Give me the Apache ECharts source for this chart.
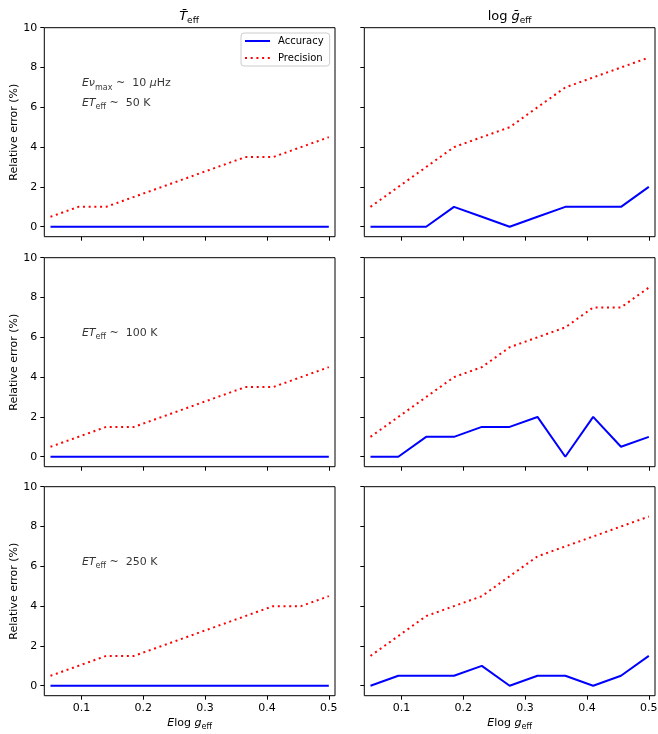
<!DOCTYPE html>
<html>
<head>
<meta charset="utf-8">
<script src="https://cdn.jsdelivr.net/npm/echarts@6/dist/echarts.min.js"></script>
<style>html,body{margin:0;padding:0;background:#fff}#c{width:658px;height:734px}</style>
</head>
<body>
<div id="c"></div>
<script>
// ---- data ----
const xVals = [0.05, 0.095, 0.14, 0.185, 0.23, 0.275, 0.32, 0.365, 0.41, 0.455, 0.5];
const xTicks = [0.1, 0.2, 0.3, 0.4, 0.5];
const yTicks = [0, 2, 4, 6, 8, 10];

const teffAcc1 = [0, 0, 0, 0, 0, 0, 0, 0, 0, 0, 0];
const teffPrec1 = [0.5, 1, 1, 1.5, 2, 2.5, 3, 3.5, 3.5, 4, 4.5];
const loggAcc1 = [0, 0, 0, 1, 0.5, 0, 0.5, 1, 1, 1, 2];
const loggPrec1 = [1, 2, 3, 4, 4.5, 5, 6, 7, 7.5, 8, 8.5];

const teffAcc2 = [0, 0, 0, 0, 0, 0, 0, 0, 0, 0, 0];
const teffPrec2 = [0.5, 1, 1.5, 1.5, 2, 2.5, 3, 3.5, 3.5, 4, 4.5];
const loggAcc2 = [0, 0, 1, 1, 1.5, 1.5, 2, 0, 2, 0.5, 1];
const loggPrec2 = [1, 2, 3, 4, 4.5, 5.5, 6, 6.5, 7.5, 7.5, 8.5];

const teffAcc3 = [0, 0, 0, 0, 0, 0, 0, 0, 0, 0, 0];
const teffPrec3 = [0.5, 1, 1.5, 1.5, 2, 2.5, 3, 3.5, 4, 4, 4.5];
const loggAcc3 = [0, 0.5, 0.5, 0.5, 1, 0, 0.5, 0.5, 0, 0.5, 1.5];
const loggPrec3 = [1.5, 2.5, 3.5, 4, 4.5, 5.5, 6.5, 7, 7.5, 8, 8.5];

const panels = [
  [teffAcc1, teffPrec1], [loggAcc1, loggPrec1],
  [teffAcc2, teffPrec2], [loggAcc2, loggPrec2],
  [teffAcc3, teffPrec3], [loggAcc3, loggPrec3]
];
const notes = [
  ['{i|Eν}{s|max}{n| ~  10 }{i|μ}{n|Hz}', '{i|ET}{s|eff}{n| ~  50 K}'],
  ['{i|ET}{s|eff}{n| ~  100 K}'],
  ['{i|ET}{s|eff}{n| ~  250 K}']
];
const noteY = [[7.2, 6.2], [6.2], [6.2]];

// ---- chart ----
const FF = 'DejaVu Sans';
const richBase = (fs) => ({
  i: {fontFamily: FF, fontStyle: 'italic', fontSize: fs, color: '#000', lineHeight: 16},
  n: {fontFamily: FF, fontSize: fs, color: '#000', lineHeight: 16},
  s: {fontFamily: FF, fontSize: Math.round(fs * 0.72), color: '#000', lineHeight: 9, verticalAlign: 'bottom'}
});

const colLeft = [44.3, 364.3];
const rowTop = [27.7, 257.7, 486.7];
const W = 290.7, H = 209;

const grids = [], xAxes = [], yAxes = [], series = [];
for (let r = 0; r < 3; r++) {
  for (let c = 0; c < 2; c++) {
    const g = r * 2 + c;
    grids.push({left: colLeft[c], top: rowTop[r], width: W, height: H,
      outerBoundsMode: 'none', containLabel: false,
      show: true, borderColor: '#000', borderWidth: 1, backgroundColor: 'transparent'});
    xAxes.push({
      type: 'value', gridIndex: g, min: 0.04, max: 0.51,
      axisLine: {show: false, onZero: false},
      splitLine: {show: false},
      axisTick: {show: true, inside: false, length: 4, customValues: xTicks, lineStyle: {color: '#000', width: 1}},
      axisLabel: {show: r === 2, customValues: xTicks, fontFamily: FF, fontSize: 11, color: '#000', margin: 7},
      name: r === 2 ? '{i|E}{n|log }{i|g}{s|eff}' : '',
      nameLocation: 'middle', nameGap: 19,
      nameTextStyle: {rich: richBase(11)}
    });
    yAxes.push({
      type: 'value', gridIndex: g, min: -0.5, max: 10,
      axisLine: {show: false, onZero: false},
      splitLine: {show: false},
      axisTick: {show: true, inside: false, length: 4, customValues: yTicks, lineStyle: {color: '#000', width: 1}},
      axisLabel: {show: c === 0, customValues: yTicks, fontFamily: FF, fontSize: 11, color: '#000', margin: 7},
      name: c === 0 ? 'Relative error (%)' : '',
      nameLocation: 'middle', nameGap: 25,
      nameTextStyle: {fontFamily: FF, fontSize: 11, color: '#000'}
    });
    const [acc, prec] = panels[g];
    series.push({
      type: 'line', name: 'Accuracy', xAxisIndex: g, yAxisIndex: g,
      data: xVals.map((x, k) => [x, acc[k]]),
      symbol: 'none', lineStyle: {color: '#0000ff', width: 2}, itemStyle: {color: '#0000ff'},
      animation: false, silent: true
    });
    series.push({
      type: 'line', name: 'Precision', xAxisIndex: g, yAxisIndex: g,
      data: xVals.map((x, k) => [x, prec[k]]),
      symbol: 'none', lineStyle: {color: '#ff0000', width: 2, type: [2, 3.7]}, itemStyle: {color: '#ff0000'},
      animation: false, silent: true
    });
    if (c === 0) {
      notes[r].forEach((txt, k) => {
        series.push({
          type: 'scatter', xAxisIndex: g, yAxisIndex: g,
          data: [[0.1, noteY[r][k]]], symbolSize: 1, itemStyle: {color: 'rgba(0,0,0,0)'},
          label: {show: true, position: 'right', distance: 0, formatter: txt, rich: richBase(11), color: '#000'},
          animation: false, silent: true
        });
      });
    }
  }
}

const chart = echarts.init(document.getElementById('c'), null, {renderer: 'canvas'});
chart.setOption({
  animation: false,
  grid: grids, xAxis: xAxes, yAxis: yAxes, series: series,
  legend: {
    data: ['Accuracy', 'Precision'],
    orient: 'vertical', left: 241, top: 33,
    itemWidth: 25, itemHeight: 12, itemGap: 7,
    padding: [3, 6, 3, 3],
    borderColor: '#cccccc', borderWidth: 1, borderRadius: 3,
    backgroundColor: 'rgba(255,255,255,0.8)',
    itemStyle: {color: 'rgba(0,0,0,0)', borderWidth: 0, opacity: 0},
    textStyle: {fontFamily: FF, fontSize: 10, color: '#000', padding: [0, 0, 0, 3]},
    selectedMode: false
  },
  graphic: [
    {type: 'text', x: 189, y: 17, style: {text: '{i|T̄}{s|eff}', rich: richBase(13), align: 'center', verticalAlign: 'middle'}},
    {type: 'text', x: 509.6, y: 17, style: {text: '{n|log }{i|ḡ}{s|eff}', rich: richBase(13), align: 'center', verticalAlign: 'middle'}}
  ]
});
</script>
</body>
</html>
